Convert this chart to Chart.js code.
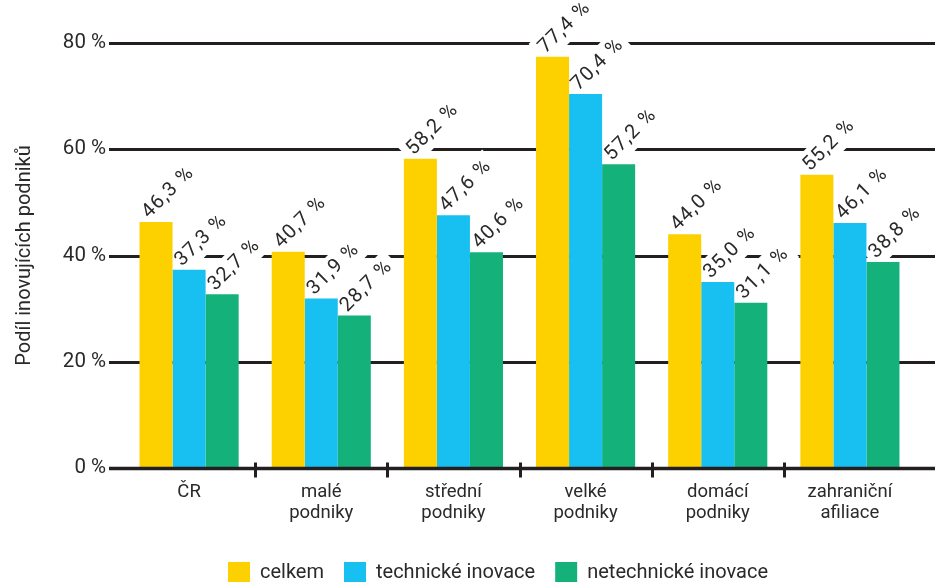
<!DOCTYPE html>
<html>
<head>
<meta charset="utf-8">
<style>
  html, body { margin: 0; padding: 0; background: #fff; overflow: hidden; }
  #wrap { position: relative; width: 935px; height: 594px; }
</style>
<script src="https://cdn.jsdelivr.net/npm/chart.js@4.4.1/dist/chart.umd.min.js"></script>
</head>
<body>
<div id="wrap"><canvas id="chart" width="935" height="594"></canvas></div>
<script>
// Kategorie podniků (víceřádkové popisky osy x)
const categories = [
  ['ČR'],
  ['malé', 'podniky'],
  ['střední', 'podniky'],
  ['velké', 'podniky'],
  ['domácí', 'podniky'],
  ['zahraniční', 'afiliace']
];
const seriesNames = ['celkem', 'technické inovace', 'netechnické inovace'];
// Podíl inovujících podniků v %
const celkem      = [46.3, 40.7, 58.2, 77.4, 44.0, 55.2];
const technicke   = [37.3, 31.9, 47.6, 70.4, 35.0, 46.1];
const netechnicke = [32.7, 28.7, 40.6, 57.2, 31.1, 38.8];
const yTicks = [0, 20, 40, 60, 80];

const COLORS = ['#FDD100', '#17C0F0', '#14B27A'];
const INK = '#2a2a2a';
const LINE = '#231f20';
const FONT = 'Roboto, "Noto Sans", sans-serif';

const fmt = v => v.toFixed(1).replace('.', ',') + ' %';

// Vodorovné čáry mřížky a osa x přesahují kreslicí plochu
const GRID_LEFT = 109;
const GRID_RIGHT = 935;
// Popisky hodnot: posun počátku textu vůči vrcholu sloupce
const LBL_DX = -7;
const LBL_DY = -3;
const LBL_SIZE = 20;
const LBL_FONT = LBL_SIZE + 'px ' + FONT;
const LBL_SPACING = '1.2px';
const LBL_PAD = 5;

function eachBar(chart, fn) {
  chart.data.datasets.forEach((ds, di) => {
    const meta = chart.getDatasetMeta(di);
    meta.data.forEach((bar, i) => fn(bar, ds.data[i]));
  });
}

function labelFont(ctx) {
  ctx.font = LBL_FONT;
  if ('letterSpacing' in ctx) ctx.letterSpacing = LBL_SPACING;
}

const framePlugin = {
  id: 'frame',
  afterLayout(chart) {
    // legenda je vystředěná pod sloupci
    chart.legend.left += 40;
    chart.legend.right += 40;
  },
  beforeDatasetsDraw(chart) {
    const { ctx, scales: { y } } = chart;
    ctx.save();
    ctx.strokeStyle = LINE;
    ctx.lineWidth = 3;
    yTicks.forEach(v => {
      if (v === 0) return;
      const py = Math.round(y.getPixelForValue(v)) + 0.5;
      ctx.beginPath();
      ctx.moveTo(GRID_LEFT, py);
      ctx.lineTo(GRID_RIGHT, py);
      ctx.stroke();
    });
    // bílé podklady popisků přerušují čáry mřížky
    labelFont(ctx);
    ctx.fillStyle = '#fff';
    eachBar(chart, (bar, v) => {
      const w = ctx.measureText(fmt(v)).width;
      ctx.save();
      ctx.translate(bar.x + LBL_DX, bar.y + LBL_DY);
      ctx.rotate(-Math.PI / 4);
      ctx.fillRect(-LBL_PAD, -14 - LBL_PAD, w + 2 * LBL_PAD, 18 + 2 * LBL_PAD);
      ctx.restore();
    });
    ctx.restore();
  },
  afterDatasetsDraw(chart) {
    const { ctx, scales: { x, y } } = chart;
    ctx.save();
    // osa x
    const y0 = Math.round(y.getPixelForValue(0)) + 0.5;
    ctx.strokeStyle = LINE;
    ctx.lineWidth = 3.5;
    ctx.beginPath();
    ctx.moveTo(GRID_LEFT, y0);
    ctx.lineTo(GRID_RIGHT, y0);
    ctx.stroke();
    // značky mezi kategoriemi
    ctx.lineWidth = 3;
    for (let i = 1; i < categories.length; i++) {
      const px = Math.round((x.getPixelForValue(i - 1) + x.getPixelForValue(i)) / 2) + 0.5;
      ctx.beginPath();
      ctx.moveTo(px, y0 - 6);
      ctx.lineTo(px, y0 + 9);
      ctx.stroke();
    }
    // popisky hodnot
    labelFont(ctx);
    ctx.fillStyle = INK;
    ctx.textAlign = 'left';
    ctx.textBaseline = 'alphabetic';
    eachBar(chart, (bar, v) => {
      ctx.save();
      ctx.translate(bar.x + LBL_DX, bar.y + LBL_DY);
      ctx.rotate(-Math.PI / 4);
      ctx.fillText(fmt(v), 0, 0);
      ctx.restore();
    });
    ctx.restore();
  }
};

new Chart(document.getElementById('chart'), {
  type: 'bar',
  data: {
    labels: categories,
    datasets: [
      { label: seriesNames[0], data: celkem, backgroundColor: COLORS[0] },
      { label: seriesNames[1], data: technicke, backgroundColor: COLORS[1] },
      { label: seriesNames[2], data: netechnicke, backgroundColor: COLORS[2] }
    ]
  },
  options: {
    responsive: false,
    devicePixelRatio: 1,
    animation: false,
    events: [],
    datasets: {
      bar: { categoryPercentage: 0.75, barPercentage: 1, borderWidth: 0 }
    },
    layout: { padding: { left: 0, right: 19, top: 43, bottom: 0 } },
    plugins: {
      tooltip: { enabled: false },
      legend: {
        position: 'bottom',
        labels: {
          boxWidth: 22,
          boxHeight: 22,
          padding: 20,
          color: INK,
          font: { family: FONT, size: 20 }
        }
      }
    },
    scales: {
      x: {
        grid: { display: false, drawTicks: false },
        border: { display: false },
        ticks: {
          color: INK,
          font: { family: FONT, size: 18.5, lineHeight: 1.14 },
          padding: 14,
          maxRotation: 0,
          autoSkip: false
        },
        afterFit(scale) { scale.height = 74; }
      },
      y: {
        min: 0,
        max: 80,
        grid: { display: false, drawTicks: false },
        border: { display: false },
        ticks: {
          stepSize: 20,
          color: INK,
          padding: 17,
          font: { family: FONT, size: 20.5 },
          callback: v => v + ' %'
        },
        title: {
          display: true,
          text: 'Podíl inovujících podniků',
          color: INK,
          font: { family: FONT, size: 20 },
          padding: { top: 13, bottom: 0 }
        },
        afterFit(scale) { scale.width = 123; }
      }
    }
  },
  plugins: [framePlugin]
});
</script>
</body>
</html>
